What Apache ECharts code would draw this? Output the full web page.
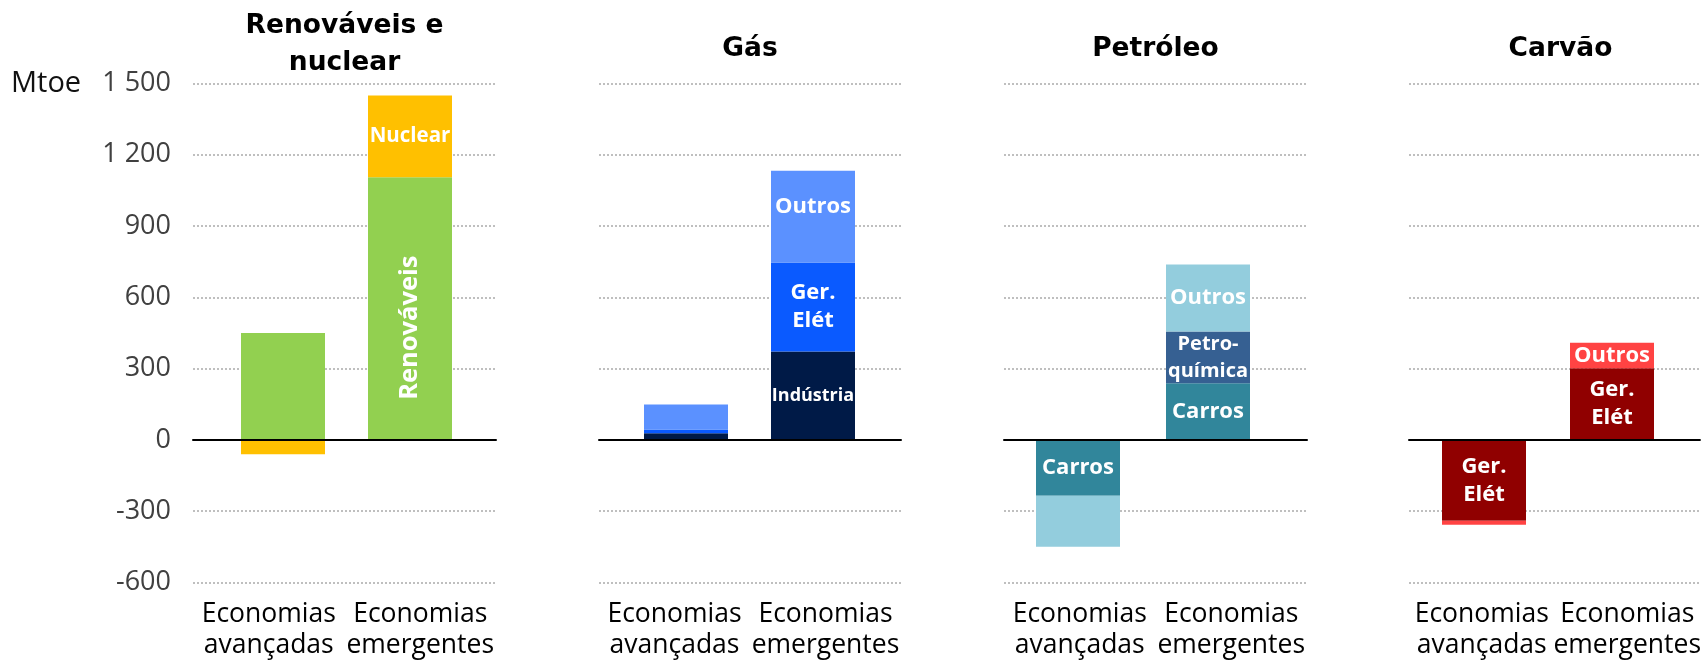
<!DOCTYPE html>
<html>
<head>
<meta charset="utf-8">
<script src="https://cdn.jsdelivr.net/npm/echarts@6/dist/echarts.min.js"></script>
<style>
  html, body { margin: 0; padding: 0; background: #fff; }
  #chart { width: 1701px; height: 663px; }
</style>
</head>
<body>
<div id="chart"></div>
<script>
// dados (Mtoe)
var categories = ['Economias\navançadas', 'Economias\nemergentes'];
var panelTitles = ['Renováveis e\nnuclear', 'Gás', 'Petróleo', 'Carvão'];
var yMin = -600, yMax = 1500, yStep = 300;

var renovaveis = [450, 1105];
var nuclear = [-60, 345];
var gasIndustria = [28, 372];
var gasGerElet = [16, 375];
var gasOutros = [105, 386];
var petroleoCarros = [-235, 239];
var petroleoPetroquimica = [0, 217];
var petroleoOutros = [-215, 282];
var carvaoGerElet = [-340, 302];
var carvaoOutros = [-17, 107];

// rótulos dentro das barras
var renovaveisLabels = ['', 'Renováveis'];
var nuclearLabels = ['', 'Nuclear'];
var gasIndustriaLabels = ['', 'Indústria'];
var gasGerEletLabels = ['', 'Ger.\nElét'];
var gasOutrosLabels = ['', 'Outros'];
var petroleoCarrosLabels = ['Carros', 'Carros'];
var petroleoPetroquimicaLabels = ['', 'Petro-\nquímica'];
var petroleoOutrosLabels = ['', 'Outros'];
var carvaoGerEletLabels = ['Ger.\nElét', 'Ger.\nElét'];
var carvaoOutrosLabels = ['', 'Outros'];

// layout dos painéis: grelha larga (linhas) e grelha das barras
var panels = [
    { left: 193, width: 303, barLeft: 219.5, barWidth: 254 },
    { left: 599, width: 302, barLeft: 622.5, barWidth: 254 },
    { left: 1004, width: 303, barLeft: 1013, barWidth: 260 },
    { left: 1409, width: 303, barLeft: 1420, barWidth: 256 }
];
var gridTop = 83.5, gridBottom = 80.5;

var font = '"Open Sans", "Noto Sans", sans-serif';

function fmt(v) {
    var s = String(Math.abs(v));
    if (s.length > 3) s = s.slice(0, s.length - 3) + ' ' + s.slice(-3);
    return (v < 0 ? '-' : '') + s;
}

var grids = [], xAxes = [], yAxes = [], series = [], graphics = [];

panels.forEach(function (p, i) {
    grids.push({ left: p.left, width: p.width, top: gridTop, bottom: gridBottom });
    grids.push({ left: p.barLeft, width: p.barWidth, top: gridTop, bottom: gridBottom });

    // rótulos das categorias
    xAxes.push({
        type: 'category', gridIndex: 2 * i, data: categories, position: 'bottom',
        axisLine: { show: false, onZero: false }, axisTick: { show: false },
        axisLabel: { interval: 0, fontFamily: font, fontSize: 26.5, lineHeight: 31, color: '#000', margin: 16 }
    });
    // linha do zero
    xAxes.push({
        type: 'category', gridIndex: 2 * i, data: categories, position: 'top', z: 5,
        axisLine: { show: true, onZero: true, lineStyle: { color: '#000', width: 2 } },
        axisTick: { show: false }, axisLabel: { show: false }
    });
    // eixo das barras
    xAxes.push({ type: 'category', gridIndex: 2 * i + 1, data: categories, show: false });

    yAxes.push({
        type: 'value', gridIndex: 2 * i, min: yMin, max: yMax, interval: yStep,
        axisLine: { show: false }, axisTick: { show: false },
        axisLabel: { show: i === 0, formatter: fmt, fontFamily: font, fontSize: 27, color: '#404040', margin: 22 },
        splitLine: { show: true, lineStyle: { color: '#BFBFBF', width: 2, type: [2, 2] } }
    });
    yAxes.push({ type: 'value', gridIndex: 2 * i + 1, min: yMin, max: yMax, interval: yStep, show: false, splitLine: { show: false } });

    graphics.push({
        type: 'text', x: p.left + p.width / 2, y: i === 0 ? 44.5 : 49,
        style: {
            text: panelTitles[i], align: 'center', verticalAlign: 'middle',
            fontFamily: '"DejaVu Sans", sans-serif', fontWeight: 'bold', fontSize: 26.5, lineHeight: 37, fill: '#000'
        }
    });
});

graphics.push({
    type: 'text', x: 11, y: 84,
    style: { text: 'Mtoe', verticalAlign: 'middle', fontFamily: font, fontSize: 29, fill: '#111' }
});

function addBars(panel, name, values, labels, color, extra) {
    series.push({
        type: 'bar', name: name, stack: 'p' + panel, barWidth: 84,
        xAxisIndex: 3 * panel + 2, yAxisIndex: 2 * panel + 1,
        itemStyle: { color: color },
        data: values.map(function (v, k) {
            return {
                value: v,
                label: Object.assign({
                    show: !!labels[k], position: 'inside', formatter: labels[k],
                    color: '#fff', fontFamily: font, fontWeight: 'bold', fontSize: 22, lineHeight: 28
                }, extra || {})
            };
        })
    });
}

addBars(0, 'Renováveis', renovaveis, renovaveisLabels, '#92D050', { rotate: 90, fontSize: 25.5, offset: [-19, 0] });
addBars(0, 'Nuclear', nuclear, nuclearLabels, '#FFC000', { fontSize: 20.5 });

addBars(1, 'Indústria', gasIndustria, gasIndustriaLabels, '#001A47', { fontSize: 18 });
addBars(1, 'Ger. Elét', gasGerElet, gasGerEletLabels, '#0A5AFF');
addBars(1, 'Outros', gasOutros, gasOutrosLabels, '#5B91FF', { offset: [0, -10] });

addBars(2, 'Carros', petroleoCarros, petroleoCarrosLabels, '#31869B');
addBars(2, 'Petroquímica', petroleoPetroquimica, petroleoPetroquimicaLabels, '#366092', { fontSize: 20, lineHeight: 27 });
addBars(2, 'Outros', petroleoOutros, petroleoOutrosLabels, '#93CDDD');

addBars(3, 'Ger. Elét', carvaoGerElet, carvaoGerEletLabels, '#900000');
addBars(3, 'Outros', carvaoOutros, carvaoOutrosLabels, '#FF4343');

var myChart = echarts.init(document.getElementById('chart'));
myChart.setOption({
    animation: false,
    grid: grids,
    xAxis: xAxes,
    yAxis: yAxes,
    series: series,
    graphic: graphics
});
</script>
</body>
</html>
